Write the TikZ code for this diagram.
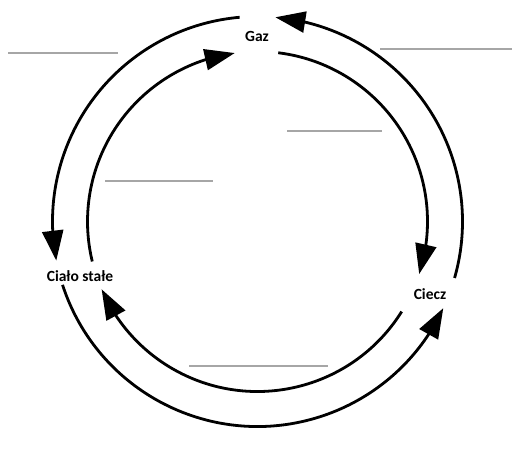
\documentclass[tikz,border=0pt]{standalone}
\usepackage{fontspec}
\setmainfont{Carlito}
\usetikzlibrary{arrows.meta,bending,calc}
\begin{document}
\begin{tikzpicture}[x=1pt,y=1pt,
  cyc/.style={line width=2.8pt,-{Triangle[length=30pt,width=21pt,flex]}},
  lbl/.style={font=\fontsize{15.5}{18}\selectfont\bfseries,inner sep=1pt},
  blank/.style={draw=black!35,line width=1.2pt}]
\useasboundingbox (0,0) rectangle (513,452);
\coordinate (c) at (257.5,230.5);
% labels
\node[lbl] (gaz) at (257,416) {Gaz};
\node[lbl] (solid) at (80,176) {Ciało stałe};
\node[lbl] (liq) at (430,158) {Ciecz};
% arc start points
\coordinate (o1) at ($(c)+(95:205)$);
\coordinate (o2) at ($(c)+(198:205)$);
\coordinate (o3) at ($(c)+(-16:205)$);
\coordinate (i1) at ($(c)+(193.6:170)$);
\coordinate (i2) at ($(c)+(83:170)$);
\coordinate (i3) at ($(c)+(-32:170)$);
% outer arcs (counterclockwise)
\draw[cyc] (o1) arc[start angle=95,end angle=191,radius=205];
\draw[cyc] (o2) arc[start angle=198,end angle=335,radius=205];
\draw[cyc] (o3) arc[start angle=-16,end angle=85,radius=205];
% inner arcs (clockwise)
\draw[cyc] (i1) arc[start angle=193.6,end angle=97.7,radius=170];
\draw[cyc] (i2) arc[start angle=83,end angle=-18,radius=170];
\draw[cyc] (i3) arc[start angle=-32,end angle=-156.5,radius=170];
% blank answer lines
\coordinate (b1a) at (8,399); \coordinate (b1b) at (118,399);
\coordinate (b2a) at (380,403); \coordinate (b2b) at (512,403);
\coordinate (b3a) at (287,321); \coordinate (b3b) at (382,321);
\coordinate (b4a) at (105,271); \coordinate (b4b) at (213,271);
\coordinate (b5a) at (189,86); \coordinate (b5b) at (328,86);
\draw[blank] (b1a) -- (b1b);
\draw[blank] (b2a) -- (b2b);
\draw[blank] (b3a) -- (b3b);
\draw[blank] (b4a) -- (b4b);
\draw[blank] (b5a) -- (b5b);
\end{tikzpicture}
\end{document}
